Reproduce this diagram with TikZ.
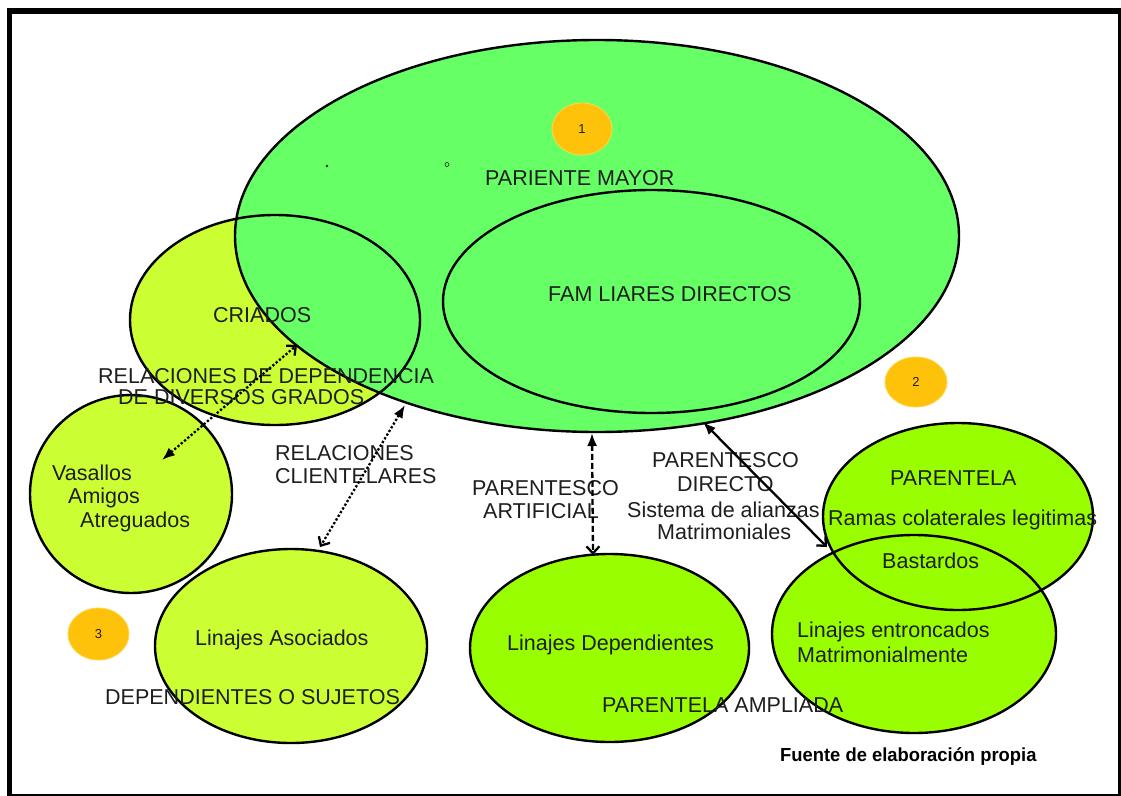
\documentclass[tikz,border=0pt]{standalone}
\usepackage{fontspec}
\setmainfont{Liberation Sans}
\usetikzlibrary{shapes.geometric,arrows.meta}
\definecolor{bigGreen}{HTML}{66FF66}
\definecolor{yelGreen}{HTML}{CCFF33}
\definecolor{limeGreen}{HTML}{99FF00}
\definecolor{badge}{HTML}{FFC20A}
\definecolor{badgeEdge}{HTML}{FFD84A}
\definecolor{ink}{HTML}{1E1E1E}
\begin{document}
\begin{tikzpicture}[x=1pt,y=-1pt,
  blob/.style={ellipse, inner sep=0pt, outer sep=0pt},
  rim/.style={ellipse, inner sep=0pt, outer sep=0pt, draw=black, line width=2.4pt},
  lbl/.style={font=\fontsize{21.5}{24}\selectfont, text=ink, inner sep=0pt, anchor=base west},
  badgenode/.style={ellipse, fill=badge, draw=badgeEdge, line width=0.8pt, inner sep=0pt, font=\fontsize{13}{15}\selectfont, text=ink},
  lnk/.style={line width=2.3pt, {Latex[length=13pt,width=10pt]}-{Straight Barb[length=7pt,width=13pt]}},
  dots/.style={dash pattern=on 2.3pt off 2pt},
  dashes/.style={dash pattern=on 6pt off 3pt},
]
\useasboundingbox (0,0) rectangle (1121,795);
\fill[white] (0,0) rectangle (1121,795);

% fills
\node[blob, fill=yelGreen, minimum width=290pt, minimum height=210pt] (criados) at (275,320) {};
\node[blob, fill=bigGreen, minimum width=724pt, minimum height=392pt] (mayor) at (597,236) {};
\node[blob, fill=yelGreen, minimum width=202pt, minimum height=198pt] (vasallos) at (131,494) {};
\node[blob, fill=yelGreen, minimum width=272pt, minimum height=194pt] (asociados) at (291,646) {};
\node[blob, fill=limeGreen, minimum width=279pt, minimum height=188pt] (dependientes) at (609.5,648) {};
\node[blob, fill=limeGreen, minimum width=284pt, minimum height=198pt] (entroncados) at (914,634) {};
\node[blob, fill=limeGreen, minimum width=270pt, minimum height=187pt] (parentela) at (958,516.5) {};

% outlines
\node[rim, minimum width=290pt, minimum height=210pt] (criadosrim) at (criados.center) {};
\node[rim, minimum width=724pt, minimum height=392pt] (mayorrim) at (mayor.center) {};
\node[rim, minimum width=417pt, minimum height=223pt] (familiares) at (651.5,301.5) {};
\node[rim, minimum width=202pt, minimum height=198pt] (vasallosrim) at (vasallos.center) {};
\node[rim, minimum width=272pt, minimum height=194pt] (asociadosrim) at (asociados.center) {};
\node[rim, minimum width=279pt, minimum height=188pt] (dependientesrim) at (dependientes.center) {};
\node[rim, minimum width=284pt, minimum height=198pt] (entroncadosrim) at (entroncados.center) {};
\node[rim, minimum width=270pt, minimum height=187pt] (parentelarim) at (parentela.center) {};

% tiny marks
\fill[ink] (327,166) circle (1.3);
\draw[ink, line width=0.6pt] (447,164.5) circle (2);

% badges
\node[badgenode, minimum width=60pt, minimum height=52pt] (b1) at (582,129) {1};
\node[badgenode, minimum width=62pt, minimum height=50pt] (b2) at (916,382) {2};
\node[badgenode, minimum width=61pt, minimum height=52pt] (b3) at (98.5,634) {3};

% labels
\node[lbl] (t1) at (485,185) {PARIENTE MAYOR};
\node[lbl] (t2) at (548,301) {FAM LIARES DIRECTOS};
\node[lbl] (t3) at (213,322) {CRIADOS};
\node[lbl] (t4) at (98,383) {RELACIONES DE DEPENDENCIA};
\node[lbl] (t5) at (118,404) {DE DIVERSOS GRADOS};
\node[lbl] (t6) at (52,480) {Vasallos};
\node[lbl] (t7) at (68,503) {Amigos};
\node[lbl] (t8) at (80,527) {Atreguados};
\node[lbl] (t9) at (275,460) {RELACIONES};
\node[lbl] (t10) at (275,483) {CLIENTELARES};
\node[lbl] (t11) at (472,495) {PARENTESCO};
\node[lbl] (t12) at (483,518) {ARTIFICIAL};
\node[lbl] (t13) at (652,467) {PARENTESCO};
\node[lbl] (t14) at (677,491) {DIRECTO};
\node[lbl] (t15) at (627,517) {Sistema de alianzas};
\node[lbl] (t16) at (657,539) {Matrimoniales};
\node[lbl] (t17) at (890,485) {PARENTELA};
\node[lbl] (t18) at (828,525) {Ramas colaterales legitimas};
\node[lbl] (t19) at (882,568) {Bastardos};
\node[lbl] (t20) at (797,637) {Linajes entroncados};
\node[lbl] (t21) at (797,662) {Matrimonialmente};
\node[lbl] (t22) at (507,650) {Linajes Dependientes};
\node[lbl] (t23) at (602,712) {PARENTELA AMPLIADA};
\node[lbl] (t24) at (195,645) {Linajes Asociados};
\node[lbl] (t25) at (105,704) {DEPENDIENTES O SUJETOS};
\node[lbl, font=\fontsize{17.5}{19}\selectfont\bfseries, text=black] (t26) at (780,761) {\scalebox{1.05}[1.08]{Fuente de elaboración propia}};

% connectors
\coordinate (a1s) at (162,460); \coordinate (a1e) at (297,345);
\coordinate (a2s) at (405,405); \coordinate (a2e) at (320,547);
\coordinate (a3s) at (592,433); \coordinate (a3e) at (593,555);
\coordinate (a4s) at (703,422); \coordinate (a4e) at (827,547);
\draw[lnk, dots] (a1s) -- (a1e);
\draw[lnk, dots] (a2s) -- (a2e);
\draw[lnk, dashes] (a3s) -- (a3e);
\draw[lnk] (a4s) -- (a4e);

% frame
\draw[line width=5pt] (9.5,11) rectangle (1120.5,796);
\draw[line width=6pt] (7,11) -- (1121,11);
\end{tikzpicture}
\end{document}
